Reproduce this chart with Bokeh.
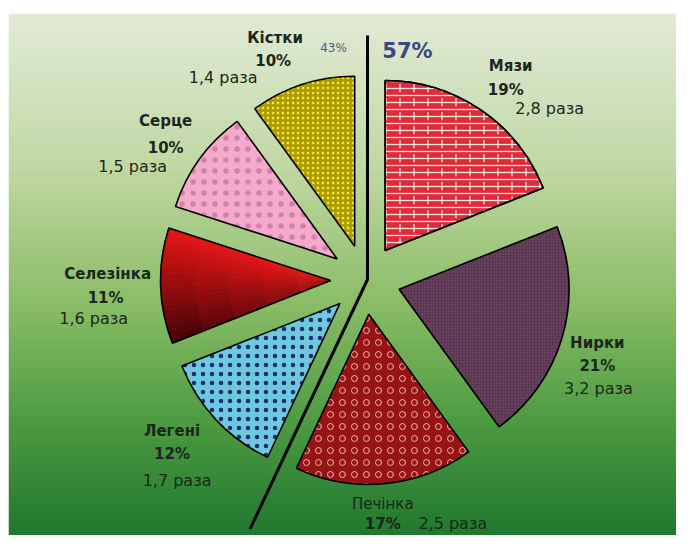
import numpy as np
from bokeh.plotting import figure
from bokeh.models import Range1d, ColumnDataSource
from bokeh.core.properties import value
from bokeh.embed import file_html
from bokeh.resources import INLINE

# ---------------- data ----------------
organs = ["Мязи", "Нирки", "Печінка", "Легені", "Селезінка", "Серце", "Кістки"]
shares = [19, 21, 17, 12, 11, 10, 10]
ratios = ["2,8 раза", "3,2 раза", "2,5 раза", "1,7 раза", "1,6 раза", "1,5 раза", "1,4 раза"]
group_right = 57   # Мязи + Нирки + Печінка
group_left = 43    # Легені + Селезінка + Серце + Кістки
n_right = 3        # number of slices on the 57 % side

# ---------------- styles / layout ----------------
fills = ["#dc2c38", "#5a3651", "#961414", "#6ec8de", "#d01010", "#f5aacb", "#ad9b06"]
hatches = ["-", ".", "o", ".", " ", ".", "."]
hatch_colors = ["#ffe4e4", "#7a5672", "#f2b4b4", "#1c2c70", "#d01010", "#cf82aa", "#f8ec2a"]
hatch_scales = [7, 3, 12, 9, 8, 11, 5]
hatch_weights = [1.3, 1.0, 1.0, 1.0, 1.0, 1.0, 1.2]
name_styles = ["bold", "bold", "normal", "bold", "bold", "bold", "bold"]
gradient_slice = 4          # index of the slice drawn with a shaded fill

# label offsets (pixels, y downwards) from each slice's outer-arc midpoint
name_off = [(30, -44), (35, 6), (-2, 20), (-44, 11), (-53, -12), (-34, -38), (-27, -47)]
pct_off = [(25, -20), (35, 29), (-2, 40), (-44, 34), (-55, 12), (-34, -11), (-29, -24)]
ratio_off = [(69, -1), (36, 52), (68, 40), (-39, 61), (-67, 33), (-67, 7), (-79, -7)]

W, H = 676, 535
LEFT_PAD, TOP_PAD = 8, 13
PAGE_H = 551
X0, X1 = LEFT_PAD, W
Y0, Y1 = PAGE_H - H, PAGE_H - TOP_PAD
CX, CY = 365, PAGE_H - 279
R = 170
EXPLODE = 35

p = figure(width=W, height=H, x_range=Range1d(X0, X1), y_range=Range1d(Y0, Y1),
           x_axis_location=None, y_axis_location=None, toolbar_location=None,
           output_backend="svg", min_border=0)
p.min_border_left = LEFT_PAD
p.min_border_right = 0
p.min_border_bottom = 0
p.min_border_top = TOP_PAD
p.grid.visible = False
p.outline_line_color = None
p.border_fill_color = "white"
p.background_fill_color = "white"

# ---------------- background gradient ----------------
stops_t = [0.0, 0.22, 0.45, 0.7, 1.0]
stops_c = [(33, 120, 48), (78, 156, 66), (140, 190, 104), (192, 216, 163), (226, 235, 214)]
n = 256
t = np.linspace(0, 1, n)
img = np.empty((n, 4), dtype=np.uint32)
view = img.view(dtype=np.uint8).reshape((n, 4, 4))
for ch in range(3):
    col = np.interp(t, stops_t, [c[ch] for c in stops_c])
    view[:, :, ch] = col[:, None].astype(np.uint8)
view[:, :, 3] = 255
p.image_rgba(image=[img], x=X0, y=Y0, dw=X1 - X0, dh=Y1 - Y0)

# ---------------- slices ----------------
total = float(sum(shares))
cum = np.cumsum([0] + shares)
a_end = [90 - 360.0 * cum[i] / total for i in range(len(shares))]
a_start = [90 - 360.0 * cum[i + 1] / total for i in range(len(shares))]
bis = [(s + e) / 2 for s, e in zip(a_start, a_end)]
rad = np.radians
cxs = [CX + EXPLODE * np.cos(rad(b)) for b in bis]
cys = [CY + EXPLODE * np.sin(rad(b)) for b in bis]

for i in range(len(shares)):
    if i == gradient_slice:
        K, M = 18, 5
        da = (a_end[i] - a_start[i]) / K
        for k in range(K):
            af = (k + 0.5) / K
            for m in range(M):
                rf = (m + 0.5) / M
                dark = af * (0.35 + 0.6 * rf)
                r_ = int(232 * (1 - 0.78 * dark))
                g_ = int(22 * (1 - dark))
                b_ = int(22 * (1 - 0.8 * dark))
                c = "#%02x%02x%02x" % (r_, g_, b_)
                p.annular_wedge(x=cxs[i], y=cys[i], inner_radius=R * m / M, outer_radius=R * (m + 1) / M,
                                start_angle=rad(a_start[i] + k * da), end_angle=rad(a_start[i] + (k + 1) * da),
                                fill_color=c, line_color=c, line_width=0.6)
        p.wedge(x=cxs[i], y=cys[i], radius=R, start_angle=rad(a_start[i]), end_angle=rad(a_end[i]),
                fill_color=None, line_color="black", line_width=1.6)
    else:
        p.wedge(x=cxs[i], y=cys[i], radius=R, start_angle=rad(a_start[i]), end_angle=rad(a_end[i]),
                fill_color=fills[i], hatch_pattern=hatches[i],
                hatch_color=hatch_colors[i], hatch_scale=hatch_scales[i], hatch_weight=hatch_weights[i],
                line_color="black", line_width=1.6)

# brick vertical joints for the first slice
p.wedge(x=cxs[0], y=cys[0], radius=R, start_angle=rad(a_start[0]), end_angle=rad(a_end[0]),
        fill_alpha=0, hatch_pattern=":", hatch_color="#ffe4e4",
        hatch_scale=14, hatch_weight=1.3, line_color="black", line_width=1.6)

# ---------------- divider line (57 % / 43 %) ----------------
boundary = a_start[n_right - 1]
L_up, L_down = 244, 276
p.line(x=[CX + 2, CX + 2, CX + 2 + L_down * np.cos(rad(boundary))],
       y=[CY + L_up, CY, CY + L_down * np.sin(rad(boundary))],
       line_color="black", line_width=3)

# ---------------- labels ----------------
mx = [CX + (EXPLODE + R) * np.cos(rad(b)) for b in bis]
my = [CY + (EXPLODE + R) * np.sin(rad(b)) for b in bis]

def src(off, texts, **extra):
    d = dict(x=[mx[i] + off[i][0] for i in range(len(texts))],
             y=[my[i] - off[i][1] for i in range(len(texts))],
             t=texts)
    d.update(extra)
    return ColumnDataSource(d)

font = value("DejaVu Sans")
p.text(x="x", y="y", text="t", source=src(name_off, organs, st=name_styles), text_font=font,
       text_font_style="st", text_font_size="15px", text_align="center",
       text_baseline="middle", text_color="#1c261c")
p.text(x="x", y="y", text="t", source=src(pct_off, ["%d%%" % s for s in shares]), text_font=font,
       text_font_style="bold", text_font_size="15px", text_align="center",
       text_baseline="middle", text_color="#1c261c")
p.text(x="x", y="y", text="t", source=src(ratio_off, ratios), text_font=font,
       text_font_size="16px", text_align="center", text_baseline="middle", text_color="#1c261c")

p.text(x=[CX + 42], y=[CY + 229], text=["%d%%" % group_right], text_font=font,
       text_font_style="bold", text_font_size="21px", text_align="center",
       text_baseline="middle", text_color="#3c4680")
p.text(x=[CX - 32], y=[CY + 232], text=["%d%%" % group_left], text_font=font,
       text_font_size="12px", text_align="center", text_baseline="middle", text_color="#4a5a90")

open("out.html", "w").write(file_html(p, INLINE))
